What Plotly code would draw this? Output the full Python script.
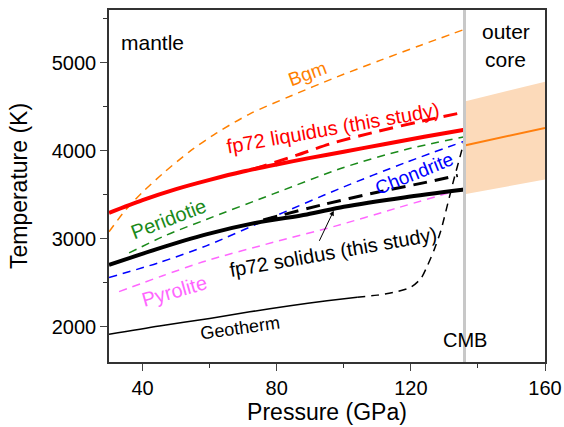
import plotly.graph_objects as go

# ---- data (Pressure GPa, Temperature K) ----
liq_p = [30, 40, 50, 60, 70, 80, 90, 100, 112, 124, 136]
liq_t = [3295, 3440, 3565, 3670, 3765, 3845, 3920, 3990, 4075, 4160, 4240]

liq2_p = [73, 86, 96, 110, 123, 136]
liq2_t = [3790, 3950, 4080, 4220, 4335, 4440]

sol_p = [30, 44, 59, 74, 89, 100, 118, 136]
sol_t = [2703, 2880, 3050, 3183, 3277, 3364, 3470, 3560]

sol2_p = [76, 94, 110, 123, 134]
sol2_t = [3215, 3390, 3530, 3630, 3720]

bgm_p = [30, 35, 40, 46, 54, 62, 72, 84, 98, 111, 123, 136]
bgm_t = [3080, 3330, 3530, 3740, 3990, 4200, 4420, 4620, 4840, 5030, 5200, 5380]

per_p = [36, 47, 59, 79, 100, 118, 136]
per_t = [2840, 3040, 3220, 3510, 3810, 4010, 4160]

cho_p = [30, 45, 59, 79, 100, 118, 136]
cho_t = [2560, 2730, 2920, 3250, 3590, 3860, 4110]

pyr_p = [33, 46, 59, 79, 98, 115, 132]
pyr_t = [2400, 2580, 2750, 2960, 3150, 3340, 3530]

geo_p = [30, 45, 60, 72, 84, 95, 104]
geo_t = [1915, 2010, 2095, 2170, 2240, 2295, 2335]

tbl_p = [104, 110, 116, 120, 123, 125, 127, 129, 131, 133, 135, 136]
tbl_t = [2335, 2360, 2400, 2450, 2550, 2700, 2880, 3100, 3400, 3700, 3980, 4130]

core_p = [136, 160]
core_t = [4060, 4260]
core_hi = [4560, 4785]
core_lo = [3505, 3675]

cmb_p = 136

FONT = "Liberation Sans, Arial, sans-serif"

fig = go.Figure()

# outer core band
fig.add_trace(go.Scatter(x=core_p, y=core_lo, mode="lines", line=dict(width=0),
                         showlegend=False, hoverinfo="skip"))
fig.add_trace(go.Scatter(x=core_p, y=core_hi, mode="lines", line=dict(width=0),
                         fill="tonexty", fillcolor="rgba(252,218,186,1)",
                         showlegend=False, hoverinfo="skip"))
fig.add_trace(go.Scatter(x=core_p, y=core_t, mode="lines",
                         line=dict(color="#FF7F0E", width=2), showlegend=False))

def line(px, py, color, width, dash=None):
    fig.add_trace(go.Scatter(x=px, y=py, mode="lines", line_shape="spline",
                             line=dict(color=color, width=width, dash=dash, smoothing=0.8),
                             showlegend=False))

line(bgm_p, bgm_t, "#FF8000", 1.5, "8px,6px")
line(per_p, per_t, "#1A8A1A", 1.5, "8px,6px")
line(cho_p, cho_t, "#0000FF", 1.5, "8px,6px")
line(pyr_p, pyr_t, "#FF66FF", 1.5, "8px,6px")
line(geo_p, geo_t, "black", 1.5)
line(tbl_p, tbl_t, "black", 1.5, "8px,6px")
line(liq2_p, liq2_t, "#FF0000", 3, "14px,8px")
line(sol2_p, sol2_t, "black", 3, "14px,8px")
line(liq_p, liq_t, "#FF0000", 4)
line(sol_p, sol_t, "black", 4)

# CMB line
fig.add_shape(type="line", x0=cmb_p, x1=cmb_p, y0=0, y1=1, xref="x", yref="paper",
              line=dict(color="#C8C8C8", width=3))

def txt(x, y, s, color, size, angle=0):
    fig.add_annotation(x=x, y=y, xref="x", yref="y", text=s, showarrow=False,
                       font=dict(family=FONT, size=size, color=color), textangle=angle)

txt(43.0, 5226, "mantle", "black", 21)
txt(148.3, 5360, "outer", "black", 21)
txt(148.3, 5040, "core", "black", 21)
txt(136.2, 1850, "CMB", "black", 20)
txt(89.3, 4874, "Bgm", "#FF8000", 19, -20)
txt(96.7, 4263, "fp72 liquidus (this study)", "#FF0000", 20, -10)
txt(47.6, 3230, "Peridotie", "#1A8A1A", 20, -21)
txt(121, 3745, "Chondrite", "#0000FF", 19, -22)
txt(96.7, 2855, "fp72 solidus (this study)", "black", 20, -10)
txt(49.5, 2410, "Pyrolite", "#FF66FF", 20, -16)
txt(69.2, 1991, "Geotherm", "black", 18, -8)

# arrow
fig.add_annotation(x=97, y=3320, ax=92.5, ay=2960, xref="x", yref="y",
                   axref="x", ayref="y", showarrow=True, arrowhead=2,
                   arrowsize=1, arrowwidth=1, arrowcolor="black", text="")

fig.update_layout(
    width=564, height=427,
    margin=dict(l=109, r=19, t=10, b=65),
    paper_bgcolor="white", plot_bgcolor="white",
    font=dict(family=FONT, size=20, color="black"),
    showlegend=False,
)
fig.update_xaxes(range=[30, 160], tickvals=[40, 80, 120, 160], ticks="outside",
                 ticklen=7, tickwidth=1.2, linecolor="#333", linewidth=1.5, mirror=True,
                 showgrid=False, zeroline=False, automargin=False,
                 minor=dict(tickvals=[60, 100, 140], ticklen=4, ticks="outside", tickcolor="#333"),
                 tickfont=dict(size=20), title=dict(text="Pressure (GPa)", font=dict(size=23), standoff=4))
fig.update_yaxes(range=[1600, 5600], tickvals=[2000, 3000, 4000, 5000], ticks="outside",
                 ticklen=7, tickwidth=1.2, linecolor="#333", linewidth=1.5, mirror=True,
                 showgrid=False, zeroline=False, automargin=False,
                 minor=dict(tickvals=[2500, 3500, 4500, 5500], ticklen=4, ticks="outside", tickcolor="#333"),
                 tickfont=dict(size=20), title=dict(text="Temperature (K)", font=dict(size=23), standoff=18))

fig.write_html("out.html")
